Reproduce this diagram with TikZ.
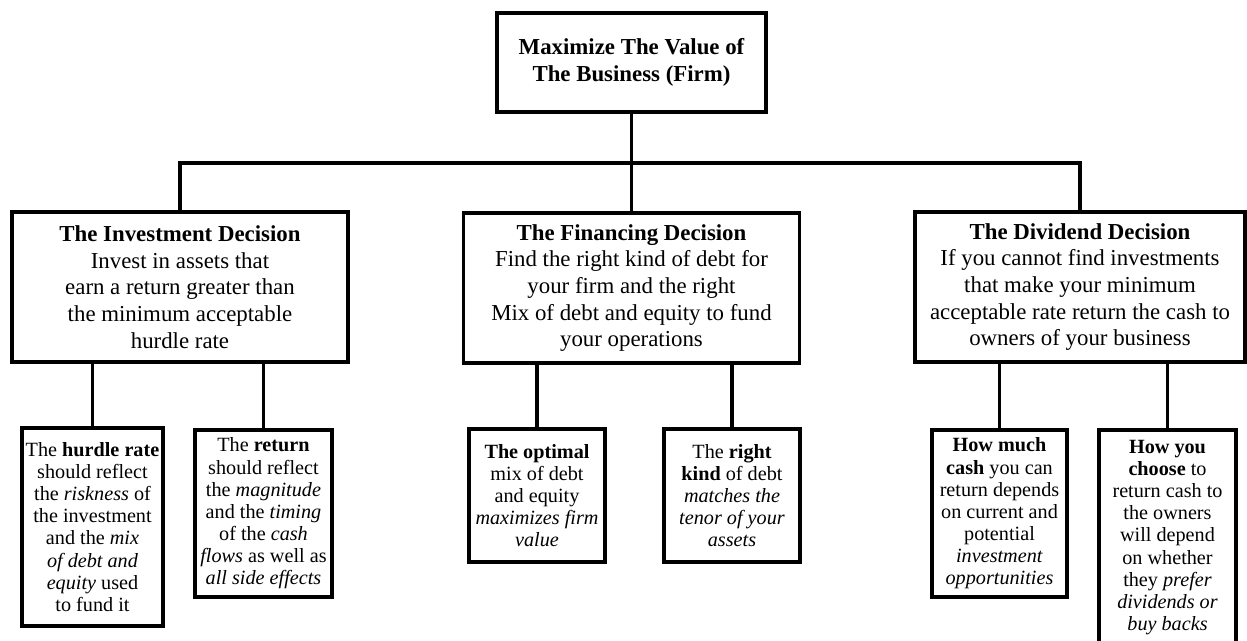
\documentclass[tikz,border=0pt]{standalone}
\usepackage{fontspec}
\setmainfont{Liberation Serif}

\begin{document}
\begin{tikzpicture}[x=0.02cm,y=-0.02cm,
  box/.style={draw,line width=2pt,align=center,inner sep=1pt},
  topbox/.style={box,minimum width=5.38cm,minimum height=1.98cm,font=\fontsize{13}{15.5}\selectfont\bfseries},
  decbox/.style={box,minimum height=3cm,font=\fontsize{13}{15.2}\selectfont},
  leafbox/.style={box,font=\fontsize{11.5}{12.6}\selectfont},
  link/.style={line width=2pt}]

\useasboundingbox (0,0) rectangle (1247,640);

\node[topbox] (firm) at (631.5,62.5) {Maximize The Value of\\The Business (Firm)};

\node[decbox,minimum width=6.72cm] (inv) at (180,287) {\textbf{The Investment Decision}\\
Invest in assets that\\
earn a return greater than\\
the minimum acceptable\\
hurdle rate};
\node[decbox,minimum width=6.72cm] (fin) at (631.5,288) {\textbf{The Financing Decision}\\
Find the right kind of debt for\\
your firm and the right\\
Mix of debt and equity to fund\\
your operations};
\node[decbox,minimum width=6.6cm] (div) at (1080,287) {\textbf{The Dividend Decision}\\
If you cannot find investments\\
that make your minimum\\
acceptable rate return the cash to\\
owners of your business};

\node[leafbox,minimum width=2.82cm,minimum height=3.96cm] (hurdle) at (92.5,527) {The \textbf{hurdle rate}\\
should reflect\\
the \textit{riskness} of\\
the investment\\
and the \textit{mix}\\
\textit{of debt and}\\
\textit{equity} used\\
to fund it};
\node[leafbox,minimum width=2.74cm,minimum height=3.34cm] (ret) at (263.5,513.5) {The \textbf{return}\\
should reflect\\
the \textit{magnitude}\\
and the \textit{timing}\\
of the \textit{cash}\\
\textit{flows} as well as\\
\textit{all side effects}};
\node[leafbox,minimum width=2.72cm,minimum height=2.66cm] (optmix) at (537,495.5) {\textbf{The optimal}\\
mix of debt\\
and equity\\
\textit{maximizes firm}\\
\textit{value}};
\node[leafbox,minimum width=2.72cm,minimum height=2.66cm] (kind) at (732,495.5) {The \textbf{right}\\
\textbf{kind} of debt\\
\textit{matches the}\\
\textit{tenor of your}\\
\textit{assets}};
\node[leafbox,minimum width=2.7cm,minimum height=3.34cm] (cash) at (999.5,513.5) {\textbf{How much}\\
\textbf{cash} you can\\
return depends\\
on current and\\
potential\\
\textit{investment}\\
\textit{opportunities}};
\node[leafbox,minimum width=2.74cm,minimum height=4.3cm] (choose) at (1167.5,537.5) {\textbf{How you}\\
\textbf{choose} to\\
return cash to\\
the owners\\
will depend\\
on whether\\
they \textit{prefer}\\
\textit{dividends or}\\
\textit{buy backs}};

\coordinate (bus) at (0,163);

\draw[link] (firm.south) -- (firm.south |- fin.north);
\draw[link] (inv.north) -- (inv.north |- bus) -- (div.north |- bus) -- (div.north);

\draw[link] (hurdle.north) -- (hurdle.north |- inv.south);
\draw[link] (ret.north) -- (ret.north |- inv.south);
\draw[link] (optmix.north) -- (optmix.north |- fin.south);
\draw[link] (kind.north) -- (kind.north |- fin.south);
\draw[link] (cash.north) -- (cash.north |- div.south);
\draw[link] (choose.north) -- (choose.north |- div.south);

\end{tikzpicture}
\end{document}
